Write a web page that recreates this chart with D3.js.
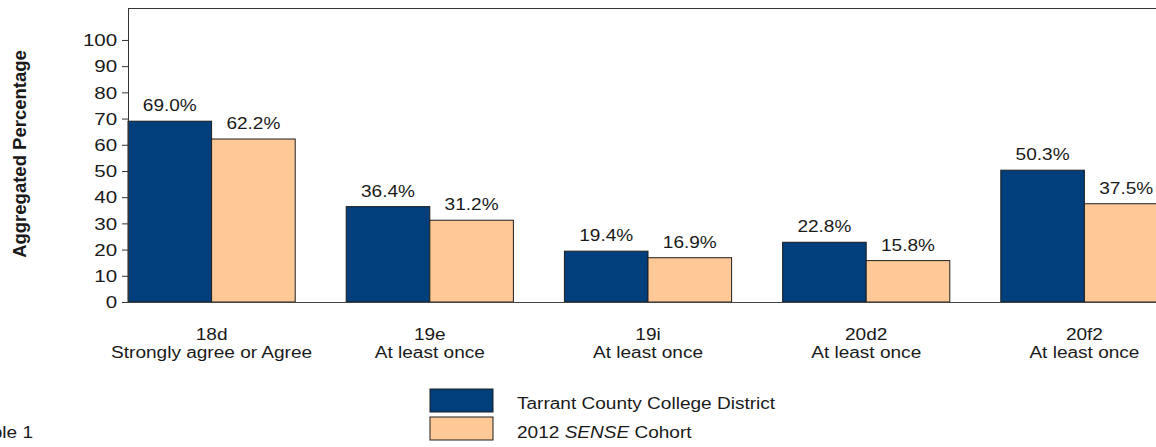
<!DOCTYPE html>
<html>
<head>
<meta charset="utf-8">
<script src="https://cdn.jsdelivr.net/npm/d3@7"></script>
<style>
  html, body { margin: 0; padding: 0; background: #fff; }
  svg { display: block; }
  text { font-family: "Liberation Sans", Arial, Helvetica, sans-serif; fill: #1a1a1a; }
</style>
</head>
<body>
<svg id="chart" width="1156" height="447"></svg>
<script>
const categories = ["18d", "19e", "19i", "20d2", "20f2"];
const subLabels = ["Strongly agree or Agree", "At least once", "At least once", "At least once", "At least once"];
const seriesNames = ["Tarrant County College District", "2012 SENSE Cohort"];
const collegeValues = [69.0, 36.4, 19.4, 22.8, 50.3];
const cohortValues = [62.2, 31.2, 16.9, 15.8, 37.5];
const yTicks = [0, 10, 20, 30, 40, 50, 60, 70, 80, 90, 100];
const colors = ["#003f7b", "#fec996"];

const SX = 1.19; // horizontal text stretch seen in the reference
const svg = d3.select("#chart");

const plotLeft = 128, plotTop = 8, plotBottom = 302;
const bandStep = 218.2, gap = 51;
const y = d3.scaleLinear().domain([0, 112.2]).range([plotBottom, plotTop]);
const x = d3.scaleBand().domain(categories)
  .range([plotLeft, plotLeft + bandStep * categories.length - gap])
  .paddingInner(gap / bandStep).paddingOuter(0).align(0);
const xs = d3.scaleBand().domain([0, 1]).range([0, x.bandwidth()]).padding(0);

function stretchedText(g, tx, ty, str, size, anchor) {
  return g.append("text")
    .attr("transform", `translate(${tx},${ty}) scale(${SX},1)`)
    .attr("text-anchor", anchor || "middle")
    .style("font-size", size + "px")
    .text(str);
}

// frame top line
svg.append("line").attr("x1", plotLeft).attr("x2", 1156).attr("y1", plotTop + 0.5).attr("y2", plotTop + 0.5)
  .attr("stroke", "#333").attr("stroke-width", 1.2);

// bars
const data = categories.map((c, i) => ({ c, vals: [collegeValues[i], cohortValues[i]] }));
const groups = svg.append("g").selectAll("g").data(data).join("g")
  .attr("transform", d => `translate(${x(d.c)},0)`);
groups.selectAll("rect").data(d => d.vals.map((v, k) => ({ v, k }))).join("rect")
  .attr("x", d => xs(d.k))
  .attr("y", d => y(d.v))
  .attr("width", xs.bandwidth())
  .attr("height", d => y(0) - y(d.v))
  .attr("fill", d => colors[d.k])
  .attr("stroke", "#1e1e1e").attr("stroke-width", 1);

// value labels
groups.each(function(d) {
  const g = d3.select(this);
  d.vals.forEach((v, k) => {
    stretchedText(g, xs(k) + xs.bandwidth() / 2, y(v) - 10, v.toFixed(1) + "%", 16);
  });
});

// y axis
const yAxis = svg.append("g").attr("transform", `translate(${plotLeft},0)`)
  .call(d3.axisLeft(y).tickValues(yTicks).tickSize(6).tickSizeOuter(0));
yAxis.select(".domain").attr("stroke", "#333").attr("d", `M0.5,${plotTop}V${plotBottom}`);
yAxis.selectAll(".tick line").attr("stroke", "#333");
yAxis.selectAll(".tick text")
  .attr("x", -10 / SX).attr("dy", "0.36em")
  .attr("transform", `scale(${SX * 1.08},1)`)
  .style("font-size", "16px").attr("fill", "#1a1a1a")
  .style("font-family", '"Liberation Sans", Arial, sans-serif');

// x baseline
svg.append("line").attr("x1", plotLeft).attr("x2", 1156).attr("y1", plotBottom + 0.5).attr("y2", plotBottom + 0.5)
  .attr("stroke", "#444").attr("stroke-width", 1.2);

// category labels
categories.forEach((c, i) => {
  const cx = x(c) + x.bandwidth() / 2;
  stretchedText(svg, cx, 340, c, 16);
  stretchedText(svg, cx, 358, subLabels[i], 16);
});

// y title
svg.append("text")
  .attr("transform", "translate(26,154) rotate(-90)")
  .attr("text-anchor", "middle")
  .style("font-size", "18.5px").style("font-weight", "bold")
  .text("Aggregated Percentage");

// legend
const legend = svg.append("g");
const legendRows = [{ y: 389, ty: 409 }, { y: 417, ty: 438 }];
legendRows.forEach((r, k) => {
  legend.append("rect").attr("x", 430).attr("y", r.y).attr("width", 63).attr("height", 23)
    .attr("fill", colors[k]).attr("stroke", "#1e1e1e").attr("stroke-width", 1);
});
stretchedText(legend, 517, legendRows[0].ty, seriesNames[0], 16, "start");
const t2 = legend.append("text")
  .attr("transform", `translate(517,${legendRows[1].ty}) scale(${SX},1)`)
  .style("font-size", "16px");
t2.append("tspan").text("2012 ");
t2.append("tspan").style("font-style", "italic").text("SENSE");
t2.append("tspan").text(" Cohort");

// cut-off caption at bottom left
stretchedText(svg, 33, 438, "Table 1", 16, "end");
</script>
</body>
</html>
